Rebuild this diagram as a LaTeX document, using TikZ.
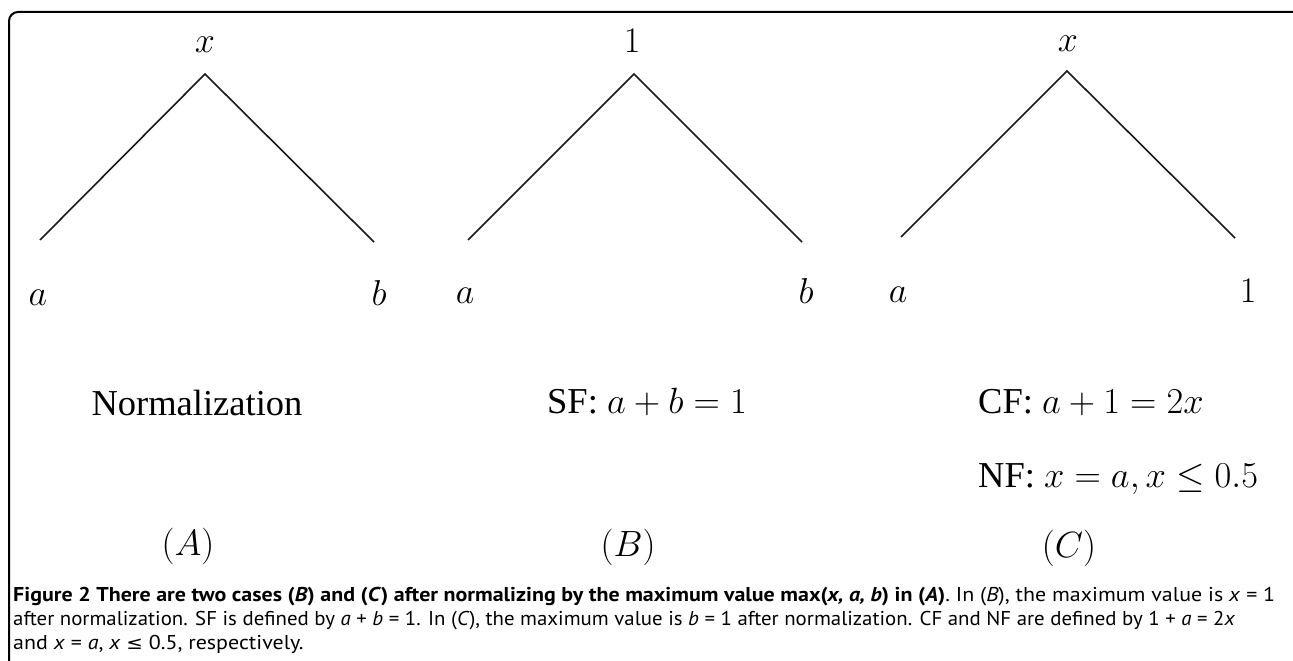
\RequirePackage{fix-cm}
\documentclass[tikz,border=0pt]{standalone}
\usepackage{fontspec}
\setmainfont{Liberation Serif}
\newfontfamily\capfont{PT Sans}
\newfontfamily\symfont{DejaVu Sans}
\newsavebox\capone
\newsavebox\captwo
\newsavebox\capthree
\begin{document}
\sbox\capone{\capfont\fontsize{20}{24}\selectfont{\bfseries Figure 2 There are two cases (\textit{B}) and (\textit{C}) after normalizing by the maximum value max(\textit{x, a, b}) in (\textit{A})}. In (\textit{B}), the maximum value is \textit{x} = 1}%
\sbox\captwo{\capfont\fontsize{20}{24}\selectfont after normalization. SF is defined by \textit{a} + \textit{b} = 1. In (\textit{C}), the maximum value is \textit{b} = 1 after normalization. CF and NF are defined by 1 + \textit{a} = 2\textit{x}}%
\sbox\capthree{\capfont\fontsize{20}{24}\selectfont and \textit{x} = \textit{a}, \textit{x} {\symfont\fontsize{18}{24}\selectfont ≤} 0.5, respectively.}%
\pgfmathsetmacro\capsx{1262/\the\wd\capone}%
\begin{tikzpicture}[x=1pt,y=-1pt,
  lab/.style={anchor=base, inner sep=0pt, font=\fontsize{36}{40}\selectfont},
  txt/.style={anchor=base, inner sep=0pt, font=\fontsize{36.5}{40}\selectfont},
  capline/.style={anchor=base west, inner sep=0pt},
  branch/.style={line width=1.6pt, draw=black!90}]
\useasboundingbox (0,0) rectangle (1293,661);
\begin{scope}
  \clip (0,0) rectangle (1293,661);
  \draw[line width=2pt, rounded corners=9pt] (9,12) rectangle (1310,700);
\end{scope}
% tree A
\coordinate (Atop) at (205,74);
\coordinate (Al) at (40,240);
\coordinate (Ar) at (374,242);
\draw[branch] (Al) -- (Atop) -- (Ar);
\node[lab] (Ax) at (205,53) {$x$};
\node[lab] (Aa) at (38,305) {$a$};
\node[lab] (Ab) at (379,305) {$b$};
% tree B
\coordinate (Btop) at (634,74);
\coordinate (Bl) at (468,240);
\coordinate (Br) at (802,242);
\draw[branch] (Bl) -- (Btop) -- (Br);
\node[lab] (B1) at (632,53) {$1$};
\node[lab] (Ba) at (465,303) {$a$};
\node[lab] (Bb) at (806,303) {$b$};
% tree C
\coordinate (Ctop) at (1067,71);
\coordinate (Cl) at (901,237);
\coordinate (Cr) at (1235,238);
\draw[branch] (Cl) -- (Ctop) -- (Cr);
\node[lab] (Cx) at (1068,52) {$x$};
\node[lab] (Ca) at (898,302) {$a$};
\node[lab] (C1) at (1248,302) {$1$};
% descriptions
\node[txt] (norm) at (197,415) {Normalization};
\node[txt] (sf) at (647,413) {SF: $a+b=1$};
\node[txt, anchor=base west] (cf) at (978,413) {CF: $a+1=2x$};
\node[txt, anchor=base west] (nf) at (978,487) {NF: $x=a, x\le 0.5$};
\node[txt] (la) at (188,555) {$(A)$};
\node[txt] (lb) at (628,556) {$(B)$};
\node[txt] (lc) at (1069,557) {$(C)$};
% caption
\node[capline] (cap1) at (13,601) {\scalebox{\capsx}[1]{\usebox\capone}};
\node[capline] (cap2) at (13,625) {\resizebox{1222pt}{\height}{\usebox\captwo}};
\node[capline] (cap3) at (13,649) {\scalebox{\capsx}[1]{\usebox\capthree}};
\end{tikzpicture}
\end{document}
